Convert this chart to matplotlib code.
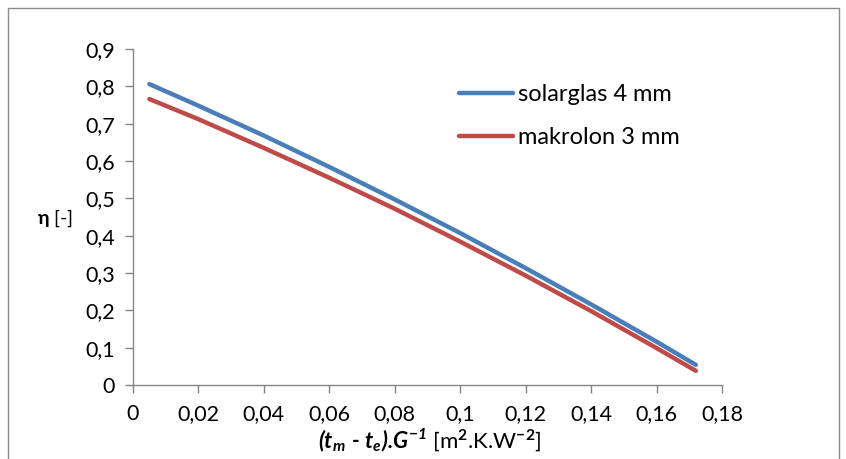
import matplotlib
matplotlib.use("Agg")
import matplotlib.pyplot as plt
from matplotlib.patches import Rectangle
from matplotlib.ticker import FuncFormatter

# Data
x_vals = [0.005, 0.02, 0.04, 0.06, 0.08, 0.10, 0.12, 0.14, 0.16, 0.172]
solarglas = [0.806, 0.748, 0.668, 0.584, 0.497, 0.407, 0.313, 0.216, 0.116, 0.054]
makrolon = [0.766, 0.712, 0.635, 0.555, 0.472, 0.384, 0.293, 0.198, 0.099, 0.038]
series_names = ["solarglas 4 mm", "makrolon 3 mm"]
x_ticks = [0, 0.02, 0.04, 0.06, 0.08, 0.10, 0.12, 0.14, 0.16, 0.18]
y_ticks = [0, 0.1, 0.2, 0.3, 0.4, 0.5, 0.6, 0.7, 0.8, 0.9]

FONT = "Lato"
plt.rcParams["font.family"] = [FONT, "DejaVu Sans"]
plt.rcParams["mathtext.fontset"] = "custom"
plt.rcParams["mathtext.rm"] = FONT
plt.rcParams["mathtext.it"] = FONT + ":italic"
plt.rcParams["mathtext.bf"] = FONT + ":bold"
plt.rcParams["mathtext.bfit"] = FONT + ":italic:bold"

fig = plt.figure(figsize=(8.46, 4.59), dpi=100)
# outer chart frame
fig.patches.append(Rectangle((8 / 846, -0.05), (839 - 8) / 846, 1 - 8 / 459 + 0.05,
                             transform=fig.transFigure, fill=False,
                             edgecolor="#8c8c8c", lw=1.0))

ax = fig.add_axes([133 / 846, 1 - 385 / 459, (722 - 133) / 846, (385 - 49) / 459])

blue = "#4A7EBB"
red = "#BE4B48"
ax.plot(x_vals, solarglas, color=blue, lw=3.2, solid_capstyle="round", label=series_names[0])
ax.plot(x_vals, makrolon, color=red, lw=3.2, solid_capstyle="round", label=series_names[1])

ax.set_xlim(0, 0.18)
ax.set_ylim(0, 0.9)
ax.set_xticks(x_ticks)
ax.set_yticks(y_ticks)

def comma(v, pos):
    s = f"{v:.2f}".rstrip("0").rstrip(".")
    return s.replace(".", ",")

ax.xaxis.set_major_formatter(FuncFormatter(comma))
ax.yaxis.set_major_formatter(FuncFormatter(comma))

for s in ["top", "right"]:
    ax.spines[s].set_visible(False)
for s in ["left", "bottom"]:
    ax.spines[s].set_color("#868686")
    ax.spines[s].set_linewidth(1.0)
ax.tick_params(axis="both", colors="#868686", labelcolor="black", labelsize=15.5,
               length=6, width=1.0, direction="out")
ax.tick_params(axis="x", pad=8)
ax.tick_params(axis="y", pad=7)

leg = ax.legend(loc="upper left", bbox_to_anchor=(0.517, 0.959), frameon=False,
                fontsize=17, handlelength=2.3, handletextpad=0.2, labelspacing=0.93,
                borderpad=0.4)

fig.text(37 / 846, 1 - 218 / 459, r"$\mathbf{\eta}$ [-]", fontsize=14,
         ha="left", va="center")
fig.text(430 / 846, 1 - 440 / 459,
         "$\\mathbfit{(t_m\\ \u2010\\ t_e).\\!G^{-1}}$ [m$^{\\mathbf{2}}$.K.W$^{\\mathbf{-2}}$]",
         fontsize=16, ha="center", va="center")

fig.savefig("out.png", dpi=100)
